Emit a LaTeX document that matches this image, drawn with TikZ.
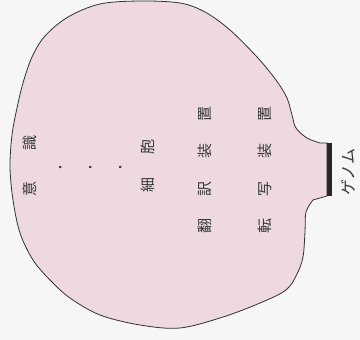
\documentclass[tikz,border=0pt]{standalone}
\usepackage{fontspec}
\newfontfamily\jpfont{Noto Sans CJK JP}
\usepackage{xcolor}
\usetikzlibrary{positioning}

\definecolor{cellpink}{RGB}{237,217,223}
\definecolor{paper}{RGB}{246,246,244}
\definecolor{inkgray}{RGB}{55,55,55}
\newcommand{\csep}[1][1.47em]{\hspace{#1}}

\begin{document}
\begin{tikzpicture}[
  x=1pt, y=-1pt,
  jplabel/.style={rotate=90, font=\jpfont\fontsize{15}{15}\selectfont, text=inkgray, inner sep=0pt},
  dotlabel/.style={jplabel, font=\jpfont\fontsize{12}{12}\selectfont},
  membrane/.style={draw=black!80, line width=0.8pt, fill=cellpink},
  genomebar/.style={line width=5.5pt, black!85}
]
\fill[paper] (0,0) rectangle (360,340);
\useasboundingbox (0,0) rectangle (360,340);

% cell outline, open where the genome sits
\coordinate (gtop) at (329.5,143);
\coordinate (gbot) at (329.5,196);
\draw[membrane] (327,196) -- plot[smooth, tension=0.55] coordinates {
  (313,200) (306,212) (305,232) (303,257) (297,274) (286,290) (260,303)
  (223,317) (180,328) (140,325) (100,315) (70,298) (50,280) (33,260)
  (20,233) (13,200) (10,167) (12,135) (17,108) (23,83) (32,57) (45,36)
  (68,17) (100,4) (140,1) (180,3) (205,12) (230,30) (257,57) (276,80)
  (287,98) (292,115) (296,128) (307,138) (320,143)} -- (327,143) -- cycle;

% genome
\draw[genomebar] (gtop) -- (gbot);
\node[jplabel, font=\jpfont\fontsize{16}{16}\selectfont] (genome) at (348,172) {ゲノム};

% levels
\node[jplabel] (mind) at (30,166) {意\csep[2.13em]識};
\node[dotlabel] (dotA) at (62,168) {・};
\node[dotlabel] (dotB) at (92,168) {・};
\node[dotlabel] (dotC) at (122,168) {・};
\node[jplabel] (cell) at (148,166) {細\csep[1.53em]胞};
\node[jplabel] (translation) at (205,170) {翻\csep 訳\csep 装\csep 置};
\node[jplabel] (transcription) at (265,170) {転\csep 写\csep 装\csep 置};

\end{tikzpicture}
\end{document}
